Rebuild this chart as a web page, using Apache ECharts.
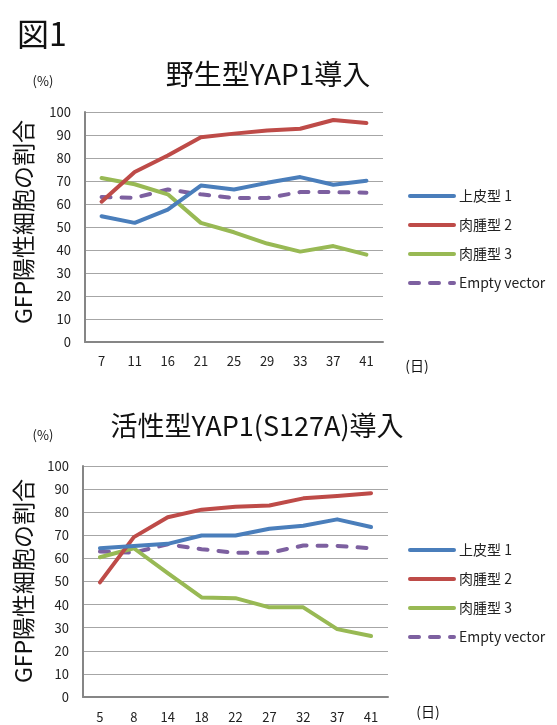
<!DOCTYPE html>
<html>
<head>
<meta charset="utf-8">
<script src="https://cdn.jsdelivr.net/npm/echarts@6/dist/echarts.min.js"></script>
<style>
html,body{margin:0;padding:0;background:#fff;}
#chart{width:557px;height:725px;}
</style>
</head>
<body>
<div id="chart"></div>
<script>
// 経過日数
var daysWt = ['7', '11', '16', '21', '25', '29', '33', '37', '41'];
var daysCa = ['5', '8', '14', '18', '22', '27', '32', '37', '41'];

// 野生型YAP1導入 (%)
var epi1Wt = [54.7, 51.8, 57.6, 68.0, 66.3, 69.2, 71.7, 68.4, 70.1];
var sar2Wt = [61.0, 73.9, 81.1, 89.0, 90.6, 92.0, 92.7, 96.5, 95.2];
var sar3Wt = [71.3, 68.6, 64.2, 51.8, 47.7, 42.8, 39.3, 41.7, 38.0];
var emptyWt = [63.0, 62.7, 66.3, 64.2, 62.6, 62.6, 65.2, 65.2, 64.9];

// 活性型YAP1(S127A)導入 (%)
var epi1Ca = [64.4, 65.4, 66.3, 69.9, 69.9, 72.8, 74.1, 76.9, 73.6];
var sar2Ca = [49.6, 69.2, 77.8, 81.1, 82.4, 82.9, 86.0, 87.0, 88.2];
var sar3Ca = [60.5, 64.4, 53.6, 43.1, 42.8, 38.8, 38.8, 29.4, 26.4];
var emptyCa = [63.0, 62.5, 66.1, 64.0, 62.4, 62.4, 65.6, 65.4, 64.4];

var names = ['上皮型 1', '肉腫型 2', '肉腫型 3', 'Empty vector'];
var colors = ['#4a7ebb', '#be4b48', '#98b954', '#7d60a0'];
var font = '"Noto Sans CJK JP", "Noto Sans", sans-serif';

var chart = echarts.init(document.getElementById('chart'));

function xAxisOf(idx, days){
	return {
		type: 'category',
		gridIndex: idx,
		data: days,
		boundaryGap: true,
		axisLine: { lineStyle: { color: '#868686', width: 2 } },
		axisTick: { show: false },
		axisLabel: { color: '#222', fontSize: 13, fontFamily: font, margin: idx == 0 ? 13 : 14 },
		splitLine: { show: false }
	};
}
function yAxisOf(idx){
	return {
		type: 'value',
		gridIndex: idx,
		min: 0, max: 100, interval: 10,
		axisLine: { show: true, lineStyle: { color: '#868686', width: 2 } },
		axisTick: { show: false },
		axisLabel: { color: '#222', fontSize: 13, fontFamily: font, margin: 14 },
		splitLine: { lineStyle: { color: '#a6a6a6', width: 1 } }
	};
}
function lineOf(i, idx, data){
	var ls = { color: colors[i], width: 4, cap: 'round', join: 'round' };
	if(i == 3){
		ls.type = [9, 11];
	}
	return {
		name: names[i],
		type: 'line',
		xAxisIndex: idx,
		yAxisIndex: idx,
		symbol: 'none',
		data: data,
		itemStyle: { color: colors[i] },
		lineStyle: ls,
		z: 10 - i
	};
}
function legendOf(top){
	return {
		orient: 'vertical',
		left: 403,
		top: top,
		itemWidth: 44,
		itemHeight: 14,
		itemGap: 15,
		data: names,
		itemStyle: { opacity: 0 },
		lineStyle: { width: 4, cap: 'round' },
		textStyle: { color: '#222', fontSize: 14, fontFamily: font },
		selectedMode: false
	};
}
function txt(x, y, s, size, rot){
	return {
		type: 'text',
		x: x, y: y,
		rotation: rot || 0,
		style: {
			text: s,
			fontSize: size,
			fontFamily: font,
			fill: '#111',
			align: 'center',
			verticalAlign: 'middle'
		}
	};
}

chart.setOption({
	animation: false,
	grid: [
		{ left: 85, top: 112, width: 298, height: 230 },
		{ left: 83, top: 466, width: 305, height: 231 }
	],
	xAxis: [xAxisOf(0, daysWt), xAxisOf(1, daysCa)],
	yAxis: [yAxisOf(0), yAxisOf(1)],
	legend: [legendOf(184), legendOf(538)],
	series: [
		lineOf(0, 0, epi1Wt),
		lineOf(1, 0, sar2Wt),
		lineOf(2, 0, sar3Wt),
		lineOf(3, 0, emptyWt),
		lineOf(0, 1, epi1Ca),
		lineOf(1, 1, sar2Ca),
		lineOf(2, 1, sar3Ca),
		lineOf(3, 1, emptyCa)
	],
	graphic: [
		txt(42, 34, '図1', 32),
		txt(268, 74, '野生型YAP1導入', 28),
		txt(257, 426, '活性型YAP1(S127A)導入', 27),
		txt(43, 81, '(%)', 13),
		txt(43, 435, '(%)', 13),
		txt(417, 366, '(日)', 14),
		txt(428, 712, '(日)', 14),
		txt(23, 222, 'GFP陽性細胞の割合', 23, Math.PI / 2),
		txt(23, 581, 'GFP陽性細胞の割合', 23, Math.PI / 2)
	]
});
</script>
</body>
</html>
